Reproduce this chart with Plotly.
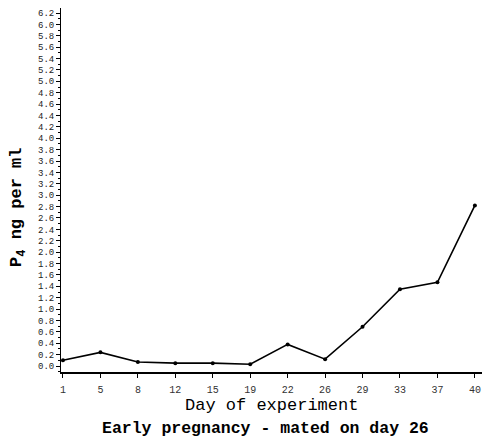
import plotly.graph_objects as go

days = ["1", "5", "8", "12", "15", "19", "22", "26", "29", "33", "37", "40"]
p4 = [0.10, 0.24, 0.07, 0.05, 0.05, 0.03, 0.38, 0.12, 0.69, 1.35, 1.47, 2.82]
y_ticks = [round(i * 0.2, 1) for i in range(32)]
y_labels = [f"{v:.1f}" for v in y_ticks]

mono = "Liberation Mono, Courier New, monospace"

fig = go.Figure()
fig.add_trace(go.Scatter(
    x=list(range(len(days))), y=p4, mode="lines+markers",
    line=dict(color="black", width=1.6),
    marker=dict(color="black", size=4),
    showlegend=False,
))

fig.update_layout(
    width=474, height=430,
    margin=dict(l=53, r=0, t=0, b=66),
    paper_bgcolor="white", plot_bgcolor="white",
    font=dict(family=mono, color="black"),
    xaxis=dict(
        tickmode="array", tickvals=list(range(len(days))), ticktext=days,
        range=[-0.053, 11.19], showline=True, linecolor="black", linewidth=1.5,
        ticks="outside", ticklen=4, tickcolor="black", showgrid=False, zeroline=False,
        tickfont=dict(size=10, family=mono, color="#333"),
        ticklabelstandoff=3, automargin=False,
    ),
    yaxis=dict(
        tickmode="array", tickvals=y_ticks, ticktext=y_labels,
        range=[-0.105, 6.288], showline=True, linecolor="black", linewidth=1,
        ticks="outside", ticklen=4, tickcolor="black", showgrid=False, zeroline=False,
        tickfont=dict(size=9, family=mono, color="#222"),
        minor=dict(dtick=0.1, ticks="outside", ticklen=2, tickcolor="black"),
        automargin=False,
    ),
    annotations=[
        dict(text="<b>P<sub>4</sub> ng per ml</b>", xref="paper", yref="paper",
             x=-0.102, y=0.451, xanchor="center", yanchor="middle", textangle=-90,
             showarrow=False, font=dict(size=17, family=mono, color="black")),
        dict(text="Day of experiment", xref="paper", yref="paper",
             x=0.501, y=-0.0907, xanchor="center", yanchor="middle", showarrow=False,
             font=dict(size=17, family=mono, color="black")),
        dict(text="<b>Early pregnancy - mated on day 26</b>", xref="paper", yref="paper",
             x=0.485, y=-0.154, xanchor="center", yanchor="middle", showarrow=False,
             font=dict(size=16.5, family=mono, color="black")),
    ],
)

fig.write_html("out.html")
